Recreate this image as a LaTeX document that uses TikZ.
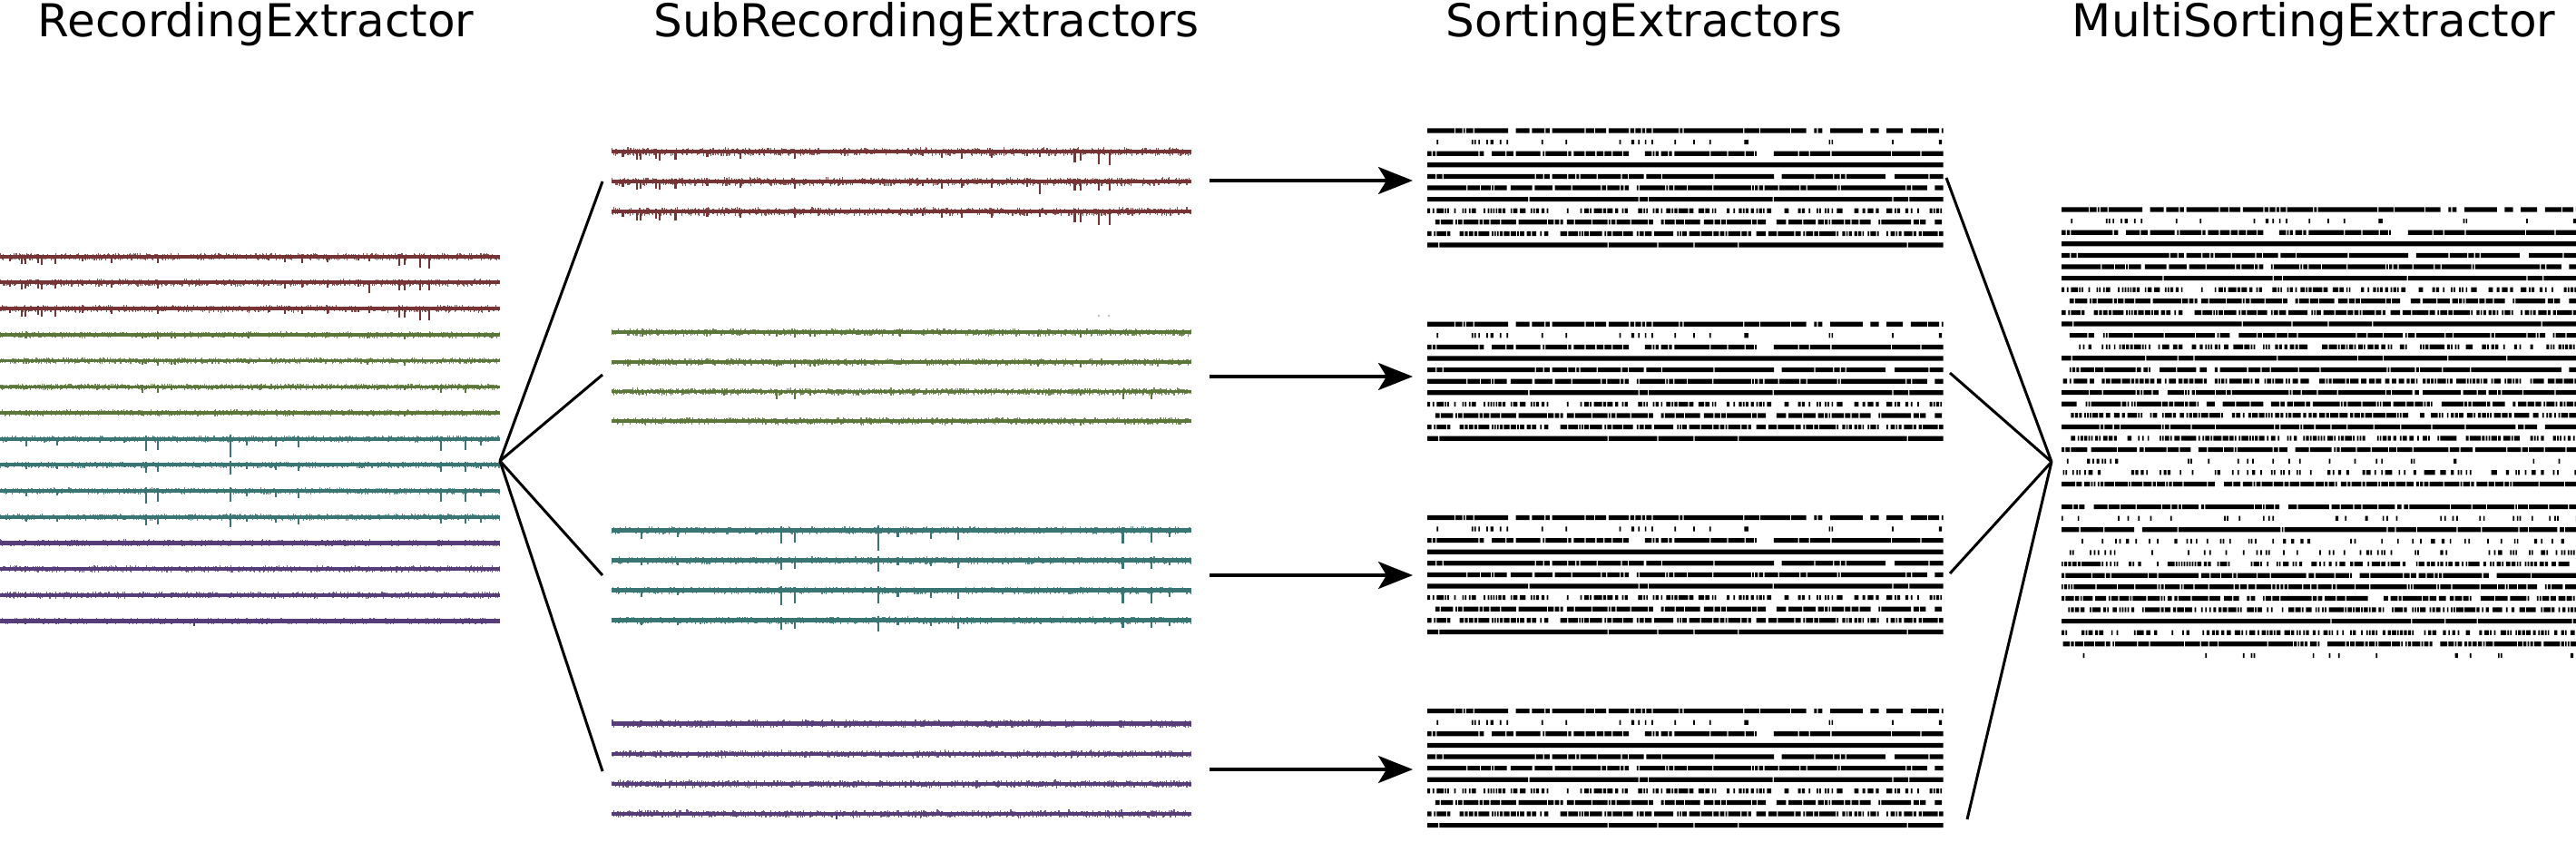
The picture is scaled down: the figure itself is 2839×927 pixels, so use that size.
\documentclass[tikz,border=0pt]{standalone}
\usepackage{fontspec}
\setmainfont{DejaVu Sans}
\usetikzlibrary{arrows.meta}
\definecolor{cred}{RGB}{118,52,52}
\definecolor{cgreen}{RGB}{90,118,56}
\definecolor{cteal}{RGB}{57,117,115}
\definecolor{cpurple}{RGB}{86,60,120}
\newcount\tk \newcount\segc \newif\ifsegon
% ---------- raster rows ----------
\def\rowbody{%
  \ifnum\segc=0
    \pgfmathrnd
    \ifdim\pgfmathresult pt<\rowG pt\relax\segonfalse\else\segontrue\fi
    \segc=6
  \fi
  \advance\segc by -1
  \ifsegon
    \pgfmathrnd
    \ifdim\pgfmathresult pt<\rowP pt\relax\rowTick\fi
  \fi
  \advance\tk by 1
  \ifnum\tk<384 \expandafter\rowbody\fi}
\def\rrow#1#2#3{\def\rowP{#1}\def\rowG{#2}\def\rowTick{#3}\tk=0 \segc=0 \rowbody\pgfusepath{fill}}
\def\tickat#1#2{\pgfpathrectangle{\pgfqpoint{\dimexpr#1pt+1.48pt*\tk\relax}{\dimexpr-#2pt-5.2pt\relax}}{\pgfqpoint{1.7pt}{5.2pt}}}
\def\sortrow#1#2#3{%
  \pgfmathsetmacro\yA{141.4+12.6*#1}%
  \pgfmathsetmacro\yB{\yA+213.2}%
  \pgfmathsetmacro\yC{\yB+213.2}%
  \pgfmathsetmacro\yD{\yC+213.2}%
  \pgfmathsetmacro\yM{228.4+12.6*#1}%
  \rrow{#2}{#3}{\tickat{1573}{\yA}\tickat{1573}{\yB}\tickat{1573}{\yC}\tickat{1573}{\yD}\tickat{2272}{\yM}}}
\def\multirow#1#2#3{\pgfmathsetmacro\yM{228.4+12.6*#1}\rrow{#2}{#3}{\tickat{2272}{\yM}}}
% ---------- trace noise ----------
\def\noisebody{%
  \pgfmathparse{1.6+\nA*rnd^3}\let\nU\pgfmathresult
  \pgfmathparse{1.6+\nB*rnd^3}\let\nD\pgfmathresult
  \pgfpathmoveto{\pgfqpoint{\dimexpr\tk pt+0.5pt\relax}{\dimexpr-\nyR pt+\nU pt\relax}}%
  \pgfpathlineto{\pgfqpoint{\dimexpr\tk pt+0.5pt\relax}{\dimexpr-\nyR pt-\nD pt\relax}}%
  \pgfpathmoveto{\pgfqpoint{\dimexpr674.58pt+1.16pt*\tk\relax}{\dimexpr-\nyS pt+\nU pt*115/100\relax}}%
  \pgfpathlineto{\pgfqpoint{\dimexpr674.58pt+1.16pt*\tk\relax}{\dimexpr-\nyS pt-\nD pt*115/100\relax}}%
  \advance\tk by 1
  \ifnum\tk<551 \expandafter\noisebody\fi}
\def\noise#1#2#3#4{\def\nyR{#1}\def\nyS{#2}\def\nA{#3}\def\nB{#4}%
  \begin{pgfscope}\pgfsetlinewidth{1.1pt}\pgfsetstrokeopacity{0.85}%
  \tk=0 \noisebody\pgfusepath{stroke}\end{pgfscope}}
% trace: #1 yr, #2 ys, #3 up amp, #4 down amp, #5 base width, #6 spikes x/d/u
\newcommand\trace[6]{%
  \draw[line width=#5pt] (0,#1) -- (551,#1);
  \draw[line width=#5pt*1.12] (674,#2) -- (1313,#2);
  \noise{#1}{#2}{#3}{#4}%
  \foreach \x/\d/\u in {#6} {
    \draw[line width=2pt] (\x,#1-\u) -- (\x,#1+\d);
    \draw[line width=2.2pt] ({674+1.16*\x},{#2-1.15*\u}) -- ({674+1.16*\x},{#2+1.15*\d});
  }}
\begin{document}
\begin{tikzpicture}[x=1pt,y=-1pt,
  ttl/.style={font=\fontsize{50}{60}\selectfont, inner sep=0pt, anchor=base},
  fan/.style={line width=3pt},
  arr/.style={line width=3.3pt, -{Stealth[length=38pt,width=30pt,inset=9pt]}}]
\useasboundingbox (0,0) rectangle (2839,927);
\pgfmathsetseed{7}
% titles
\node[ttl] (tRec) at (282,40) {RecordingExtractor};
\node[ttl] (tSub) at (1021,40) {SubRecordingExtractors};
\node[ttl] (tSort) at (1812,40) {SortingExtractors};
\node[ttl] (tMulti) at (2550,40) {MultiSortingExtractor};
% traces
\begin{scope}[color=cred]
\trace{282.7}{167}{2.5}{3}{4}{10.7/5/2, 24.3/8/2, 27.9/8/2, 42.1/7/3, 45.7/9/2, 60.7/8/2, 91/5/2, 122.5/7/2, 174/7/2, 296/4/2, 314/6/2, 333/7/2, 361/6/2, 395/4/2, 407/5/2, 440/10/3, 445.7/9/2, 463/12/2, 473/13/2}
\trace{311.4}{200}{2.5}{3}{4}{10.7/5/2, 24.3/8/2, 27.9/7/2, 42.1/7/3, 45.7/8/2, 60.7/7/3, 91/4/2, 122.5/6/2, 174/7/2, 296/4/2, 314/7/2, 333/6/2, 361/6/2, 395/5/3, 407/12/2, 440/9/3, 445.7/9/2, 463/9/2, 473/9/2}
\trace{340.1}{233}{2.5}{3}{4}{10.7/5/2, 24.3/9/2, 27.9/9/2, 42.1/7/3, 45.7/9/2, 60.7/9/2, 91/5/2, 122.5/6/2, 174/6/2, 296/4/2, 314/6/2, 333/6/2, 361/6/2, 395/4/2, 407/5/2, 440/10/3, 445.7/10/2, 463/13/2, 473/13/2}
\fill[cred!45] (1211,348) circle (1.2) (1222,348) circle (1.2);
\end{scope}
\begin{scope}[color=cgreen]
\trace{368.8}{366}{2}{2.4}{3.4}{29/4/2, 157/4/2, 161/3/2, 174/5/2, 189/4/2, 193/4/1, 234/3/1, 274/4/1, 405/4/1, 446/5/2, 486/2/1, 513/2/1}
\trace{397.5}{399}{2}{2.4}{3.4}{29/3/3, 157/4/2, 161/3/2, 174/5/2, 189/4/1, 193/4/1, 234/3/1, 274/3/1, 405/4/1, 446/5/2, 486/2/1, 513/2/1}
\trace{426.2}{431.5}{2}{2.4}{3.4}{29/3/2, 107/4/1, 157/7/2, 161/3/1, 174/7/2, 189/4/1, 234/3/1, 274/3/1, 405/3/1, 446/4/1, 486/7/2, 513/7/2}
\trace{454.9}{464}{2}{2.4}{3.2}{29/3/3, 157/3/2, 174/3/1, 189/3/1, 234/2/1, 405/3/1, 446/4/1}
\end{scope}
\begin{scope}[color=cteal]
\trace{483.6}{584.3}{2}{2.5}{4}{7/3/2, 28.6/8/2, 63.2/7/2, 137/4/2, 161.4/13/4, 174/12/2, 253.6/20/5, 272/7/2, 303.6/8/2, 329.3/9/3, 485.7/13/3, 513.2/12/3, 530.4/7/2}
\trace{512.3}{617.5}{2}{2.5}{4}{7/3/2, 28.6/5/2, 63.2/5/2, 137/3/2, 161.4/9/3, 174/8/2, 253.6/11/4, 272/5/2, 303.6/6/2, 329.3/7/2, 485.7/8/3, 513.2/8/3, 530.4/5/2}
\trace{541}{650.7}{2}{2.5}{4}{7/3/2, 28.6/6/2, 63.2/5/2, 137/3/2, 161.4/14/4, 174/12/3, 253.6/12/4, 272/6/2, 303.6/7/2, 329.3/8/2, 485.7/12/3, 513.2/12/3, 530.4/6/2}
\trace{569.7}{683.5}{2}{2.5}{4}{7/3/2, 28.6/5/2, 63.2/5/2, 137/3/2, 161.4/9/3, 174/8/2, 253.6/11/4, 272/5/2, 303.6/6/2, 329.3/8/2, 485.7/7/3, 513.2/7/3, 530.4/6/2}
\end{scope}
\begin{scope}[color=cpurple]
\trace{598.4}{797.7}{2.4}{2.4}{4.4}{27.6/3/3, 355/2/3}
\trace{627.1}{831}{2.4}{2.4}{4.4}{27.6/3/3}
\trace{655.8}{864}{2.4}{2.4}{4.4}{27.6/3/3}
\trace{684.5}{897}{2.4}{2.4}{4.4}{27.6/3/3, 214/5/1}
\end{scope}
% rasters: sorting rows (shared with multi top)
\sortrow{0}{0.92}{0.07}
\sortrow{1}{0.16}{0.35}
\sortrow{2}{0.9}{0.08}
\sortrow{3}{0.99}{0}
\sortrow{4}{0.93}{0.04}
\sortrow{5}{0.93}{0.03}
\sortrow{6}{0.99}{0}
\sortrow{7}{0.45}{0.25}
\sortrow{8}{0.82}{0.06}
\sortrow{9}{0.7}{0.1}
\sortrow{10}{0.97}{0.01}
% multi extra rows
\multirow{11}{0.93}{0.03}
\multirow{12}{0.55}{0.2}
\multirow{13}{0.98}{0}
\multirow{14}{0.92}{0.04}
\multirow{15}{0.7}{0.08}
\multirow{16}{0.93}{0.02}
\multirow{17}{0.82}{0.05}
\multirow{18}{0.7}{0.08}
\multirow{19}{0.94}{0.02}
\multirow{20}{0.6}{0.12}
\multirow{21}{0.92}{0.04}
\multirow{22}{0.15}{0.3}
\multirow{23}{0.3}{0.2}
\multirow{24}{0.85}{0.04}
\multirow{26}{0.9}{0.04}
\multirow{27}{0.13}{0.3}
\multirow{28}{0.95}{0.02}
\multirow{29}{0.2}{0.25}
\multirow{30}{0.25}{0.3}
\multirow{31}{0.55}{0.12}
\multirow{32}{0.92}{0.04}
\multirow{33}{0.9}{0.04}
\multirow{34}{0.82}{0.08}
\multirow{35}{0.6}{0.08}
\multirow{36}{0.99}{0}
\multirow{37}{0.45}{0.12}
\multirow{38}{0.85}{0.04}
\multirow{39}{0.06}{0.4}
% connectors
\coordinate (recOut) at (551,508);
\coordinate (subInA) at (664,200);
\coordinate (subInB) at (664,413);
\coordinate (subInC) at (664,634);
\coordinate (subInD) at (664,850);
\draw[fan] (recOut) -- (subInA);
\draw[fan] (recOut) -- (subInB);
\draw[fan] (recOut) -- (subInC);
\draw[fan] (recOut) -- (subInD);
\coordinate (subOutA) at (1333,199);
\coordinate (subOutB) at (1333,415);
\coordinate (subOutC) at (1333,634);
\coordinate (subOutD) at (1333,848);
\coordinate (sortInA) at (1557,199);
\coordinate (sortInB) at (1557,415);
\coordinate (sortInC) at (1557,634);
\coordinate (sortInD) at (1557,848);
\draw[arr] (subOutA) -- (sortInA);
\draw[arr] (subOutB) -- (sortInB);
\draw[arr] (subOutC) -- (sortInC);
\draw[arr] (subOutD) -- (sortInD);
\coordinate (sortOutA) at (2145,196);
\coordinate (sortOutB) at (2149,411);
\coordinate (sortOutC) at (2149,632);
\coordinate (sortOutD) at (2168,903);
\coordinate (multiIn) at (2261,509);
\draw[fan] (sortOutA) -- (multiIn);
\draw[fan] (sortOutB) -- (multiIn);
\draw[fan] (sortOutC) -- (multiIn);
\draw[fan] (sortOutD) -- (multiIn);
\end{tikzpicture}
\end{document}
